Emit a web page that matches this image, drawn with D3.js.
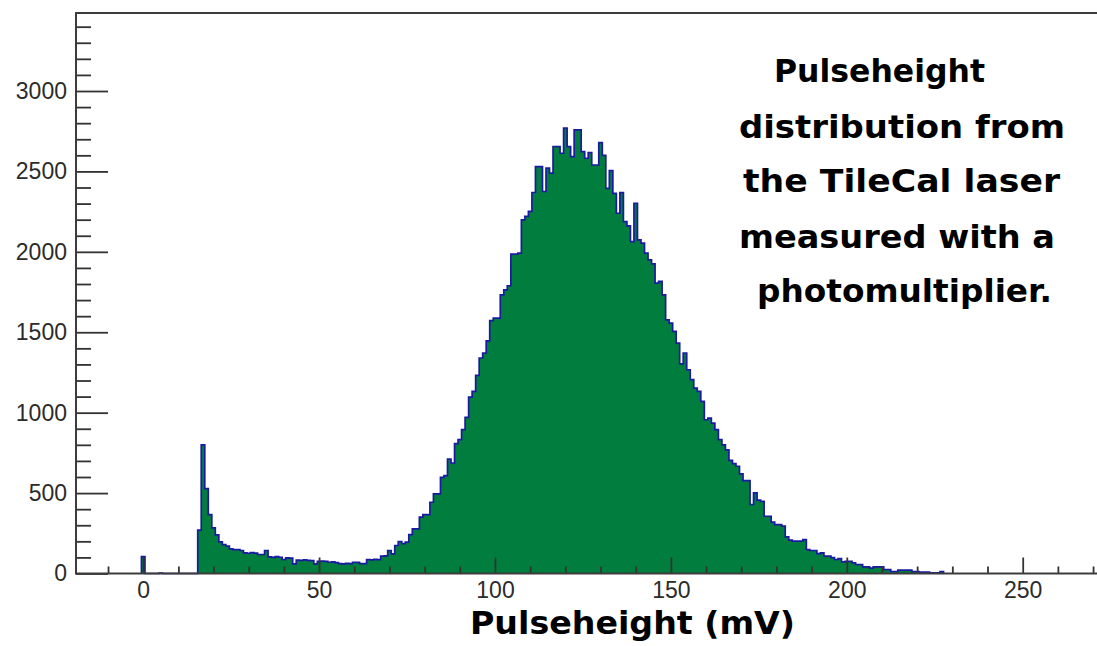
<!DOCTYPE html>
<html>
<head>
<meta charset="utf-8">
<script src="https://cdnjs.cloudflare.com/ajax/libs/d3/7.8.5/d3.min.js"></script>
<style>
body{margin:0;background:#fff;}
svg{display:block;}
</style>
</head>
<body>
<div id="chart"></div>
<script>
// histogram: 1 mV bins, first bin centred on 0 mV
var binWidth = 1
var firstBin = 0
var counts = [105,0,0,0,0,3,0,0,0,0,0,0,0,0,0,0,
  270,800,528,366,284,240,197,180,170,153,149,149,143,128,126,130,127,118,118,143,
  103,100,105,101,87,97,95,60,83,81,85,82,80,60,75,77,76,70,72,68,
  62,60,63,61,70,69,62,62,87,85,88,86,108,110,143,122,174,199,186,195,
  242,277,277,350,366,366,443,495,495,598,609,712,687,807,832,894,971,1097,1132,1232,
  1340,1371,1447,1572,1588,1588,1733,1764,1789,1986,1986,1992,2199,2220,2251,2369,2530,2530,2375,2520,
  2489,2655,2654,2613,2769,2654,2592,2758,2758,2623,2582,2617,2540,2540,2679,2600,2395,2505,2364,2240,
  2368,2188,2161,2064,2302,2074,2054,1992,1950,1925,1805,1816,1733,1577,1557,1505,1433,1304,1371,1267,
  1205,1153,1132,1070,956,966,935,894,832,800,769,703,683,667,620,578,578,429,501,456,
  449,356,356,319,304,304,294,228,207,201,201,201,211,149,143,143,124,128,108,108,
  99,87,93,72,76,76,66,56,56,41,41,33,41,41,41,25,25,12,12,21,
  21,21,21,12,12,8,8,8,4,4,4,12]

var yMajor = [0,500,1000,1500,2000,2500,3000]
var yMinor = [100,200,300,400,600,700,800,900,1100,1200,1300,1400,1600,1700,1800,1900,
  2100,2200,2300,2400,2600,2700,2800,2900,3100,3200,3300,3400]
var xMajor = [0,50,100,150,200,250]
var xMinor = [-10,10,20,30,40,60,70,80,90,110,120,130,140,160,170,180,190,210,220,230,240,260,270]

var xTitle = "Pulseheight (mV)"
var noteLines = ["Pulseheight","distribution from","the TileCal laser","measured with a","photomultiplier."]

var W = 1097, H = 646
var padLeft = 76, padTop = 13, axisY = 573.5
var xMin = -19.1, xMax = 280, yMax = 3485
var pxPerMv = 3.518

var svg = d3.select("#chart").append("svg")
    .attr("width",W).attr("height",H)

var x = d3.scaleLinear()
    .domain([xMin,xMax])
    .range([padLeft,padLeft+(xMax-xMin)*pxPerMv])
var y = d3.scaleLinear()
    .domain([0,yMax])
    .range([axisY,padTop])

var bins = counts.map(function(c,i){
    var centre = firstBin + i*binWidth
    return {x0:centre-binWidth/2, x1:centre+binWidth/2, n:c}
})
var last = bins[bins.length-1]

// filled histogram
var areaPts = bins.map(function(b){return [b.x0,b.n]})
areaPts.push([last.x1,last.n])
svg.append("path")
    .datum(areaPts)
    .attr("fill","#017e3d")
    .attr("d",d3.area().curve(d3.curveStepAfter)
        .x(function(d){return x(d[0])})
        .y0(y(0))
        .y1(function(d){return y(d[1])}))

// blue outline
var linePts = [[bins[0].x0,0]].concat(areaPts)
linePts.push([last.x1,0])
svg.append("path")
    .datum(linePts)
    .attr("fill","none")
    .attr("stroke","#1a1aa0")
    .attr("stroke-width",1.7)
    .attr("d",d3.line().curve(d3.curveStepAfter)
        .x(function(d){return x(d[0])})
        .y(function(d){return y(d[1])}))

// axes
var tickFont = "'Liberation Sans', Arial, Helvetica, sans-serif"
svg.append("g").attr("transform","translate("+padLeft+",0)")
    .call(d3.axisLeft(y).tickValues(yMinor).tickSize(-15).tickSizeOuter(0).tickFormat(""))
svg.append("g").attr("transform","translate("+padLeft+",0)")
    .call(d3.axisLeft(y).tickValues(yMajor).tickSize(-32).tickSizeOuter(0).tickPadding(9)
        .tickFormat(d3.format("d")))
svg.append("g").attr("transform","translate(0,"+axisY+")")
    .call(d3.axisBottom(x).tickValues(xMinor).tickSize(-7).tickSizeOuter(0).tickFormat(""))
svg.append("g").attr("transform","translate(0,"+axisY+")")
    .call(d3.axisBottom(x).tickValues(xMajor).tickSize(-16).tickSizeOuter(0).tickPadding(8)
        .tickFormat(d3.format("d")))

svg.selectAll(".domain").remove()
svg.selectAll(".tick line").attr("stroke","#333").attr("stroke-width",1.8)
svg.selectAll(".tick text")
    .attr("fill","#2b2b2b")
    .style("font-family",tickFont)
    .style("font-size","23px")

// frame lines
svg.append("line").attr("x1",padLeft).attr("x2",padLeft).attr("y1",padTop).attr("y2",axisY+1)
    .attr("stroke","#3c3c3c").attr("stroke-width",2)
svg.append("line").attr("x1",padLeft).attr("x2",W).attr("y1",axisY).attr("y2",axisY)
    .attr("stroke","#3c3c3c").attr("stroke-width",2)
svg.append("line").attr("x1",padLeft-1).attr("x2",W).attr("y1",padTop).attr("y2",padTop)
    .attr("stroke","#3c3c3c").attr("stroke-width",2)

var handFont = "'Comic Sans MS', 'DejaVu Sans', sans-serif"

svg.append("text")
    .attr("x",470).attr("y",634)
    .attr("textLength",325).attr("lengthAdjust","spacingAndGlyphs")
    .style("font-family",handFont).style("font-weight","bold").style("font-size","32px")
    .attr("fill","#000")
    .text(xTitle)

// note in the upper right
var noteX = [774,739,743,739,757]
var noteEnd = [985,1065,1060,1055,1052]
var noteY = [82,138,192,248,302]
svg.selectAll(".note").data(noteLines).enter().append("text")
    .attr("class","note")
    .attr("x",function(d,i){return noteX[i]})
    .attr("y",function(d,i){return noteY[i]})
    .attr("textLength",function(d,i){return noteEnd[i]-noteX[i]})
    .attr("lengthAdjust","spacingAndGlyphs")
    .style("font-family",handFont).style("font-weight","bold").style("font-size","32px")
    .attr("fill","#000")
    .text(function(d){return d})
</script>
</body>
</html>
